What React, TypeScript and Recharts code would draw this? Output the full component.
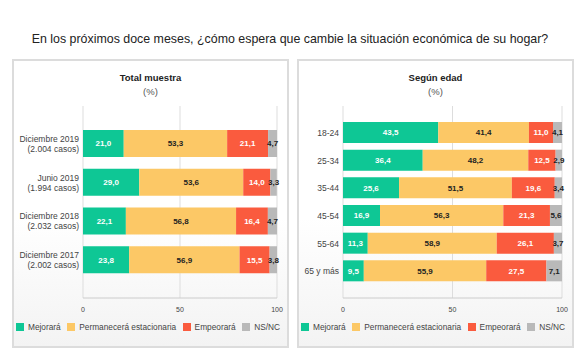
import React from 'react';
import { BarChart, Bar, XAxis, YAxis, CartesianGrid, LabelList } from 'recharts';

const totalCategories = ['Diciembre 2019', 'Junio 2019', 'Diciembre 2018', 'Diciembre 2017'];
const totalCasos = ['(2.004 casos)', '(1.994 casos)', '(2.032 casos)', '(2.002 casos)'];
const totalMejorara = [21.0, 29.0, 22.1, 23.8];
const totalPermanecera = [53.3, 53.6, 56.8, 56.9];
const totalEmpeorara = [21.1, 14.0, 16.4, 15.5];
const totalNsnc = [4.7, 3.3, 4.7, 3.8];

const edadCategories = ['18-24', '25-34', '35-44', '45-54', '55-64', '65 y más'];
const edadMejorara = [43.5, 36.4, 25.6, 16.9, 11.3, 9.5];
const edadPermanecera = [41.4, 48.2, 51.5, 56.3, 58.9, 55.9];
const edadEmpeorara = [11.0, 12.5, 19.6, 21.3, 26.1, 27.5];
const edadNsnc = [4.1, 2.9, 3.4, 5.6, 3.7, 7.1];

const xTicks = [0, 50, 100];

const series = [
  { key: 'mejorara', name: 'Mejorará', color: '#0ec795', label: '#ffffff' },
  { key: 'permanecera', name: 'Permanecerá estacionaria', color: '#fcc866', label: '#222222' },
  { key: 'empeorara', name: 'Empeorará', color: '#fa5b3e', label: '#ffffff' },
  { key: 'nsnc', name: 'NS/NC', color: '#b9b9b9', label: '#222222' },
];

const buildRows = (cats: string[], a: number[], b: number[], c: number[], d: number[]) =>
  cats.map((name, i) => ({ name, mejorara: a[i], permanecera: b[i], empeorara: c[i], nsnc: d[i] }));

const totalRows = buildRows(totalCategories, totalMejorara, totalPermanecera, totalEmpeorara, totalNsnc);
const edadRows = buildRows(edadCategories, edadMejorara, edadPermanecera, edadEmpeorara, edadNsnc);

const fmt = (v: any) => Number(v).toFixed(1).replace('.', ',');

const TotalTick = (props: any) => {
  const { x, y, payload } = props;
  const i = totalCategories.indexOf(payload.value);
  return (
    <text x={x} y={y} textAnchor="end" fontSize={8.5} fill="#444">
      <tspan x={x} dy={-1.5}>{payload.value}</tspan>
      <tspan x={x} dy={10}>{totalCasos[i]}</tspan>
    </text>
  );
};

const EdadTick = (props: any) => {
  const { x, y, payload } = props;
  return (
    <text x={x} y={y} dy={3} textAnchor="end" fontSize={8.5} fill="#444">
      {payload.value}
    </text>
  );
};

const Legend = () => (
  <div
    style={{
      position: 'absolute',
      left: 2,
      top: 261,
      display: 'flex',
      alignItems: 'center',
      fontSize: 8.3,
      color: '#444',
      whiteSpace: 'nowrap',
    }}
  >
    {series.map((s) => (
      <div key={s.key} style={{ display: 'flex', alignItems: 'center', marginRight: 6.5 }}>
        <span style={{ width: 8, height: 8, background: s.color, marginRight: 4, display: 'inline-block' }} />
        {s.name}
      </div>
    ))}
  </div>
);

const Panel = ({ left, title, rows, yWidth, padding, barSize, tick }: any) => (
  <div
    style={{
      position: 'absolute',
      left,
      top: 59,
      width: 277,
      height: 289,
      boxSizing: 'border-box',
      border: '2px solid #dcdcdc',
      background: 'linear-gradient(to bottom, #ffffff 0%, #ffffff 55%, #f3f3f3 100%)',
    }}
  >
    <div style={{ position: 'absolute', left: 0, width: 273, top: 11, textAlign: 'center', fontSize: 9.5, fontWeight: 'bold', color: '#222' }}>
      {title}
    </div>
    <div style={{ position: 'absolute', left: 0, width: 273, top: 25, textAlign: 'center', fontSize: 9.5, color: '#555' }}>
      (%)
    </div>
    <div style={{ position: 'absolute', left: 0, top: 0 }}>
      <BarChart
        width={273}
        height={285}
        data={rows}
        layout="vertical"
        margin={{ top: 45, right: 10, left: 0, bottom: 28 }}
        barSize={barSize}
      >
        <CartesianGrid vertical horizontal={false} stroke="#dddddd" verticalValues={xTicks} />
        <XAxis
          type="number"
          domain={[0, 100]}
          allowDataOverflow
          ticks={xTicks}
          height={20}
          tickLine={false}
          axisLine={{ stroke: '#cccccc' }}
          tick={{ fontSize: 7, fill: '#444' }}
          tickMargin={3}
        />
        <YAxis
          type="category"
          dataKey="name"
          width={yWidth}
          padding={padding}
          tickLine={false}
          axisLine={false}
          tickSize={0}
          tickMargin={4}
          tick={tick}
        />
        {series.map((s) => (
          <Bar key={s.key} dataKey={s.key} name={s.name} stackId="a" fill={s.color} isAnimationActive={false}>
            <LabelList dataKey={s.key} position="center" formatter={fmt} fill={s.label} fontSize={8} fontWeight="bold" />
          </Bar>
        ))}
      </BarChart>
    </div>
    <Legend />
  </div>
);

export default function App() {
  return (
    <div
      style={{
        position: 'absolute',
        left: 0,
        top: 0,
        width: 580,
        height: 360,
        background: '#ffffff',
        fontFamily: '"Liberation Sans", Arial, sans-serif',
      }}
    >
      <div style={{ position: 'absolute', left: 0, width: 580, top: 32, textAlign: 'center', fontSize: 12.4, color: '#222' }}>
        En los próximos doce meses, ¿cómo espera que cambie la situación económica de su hogar?
      </div>
      <Panel left={12} title="Total muestra" rows={totalRows} yWidth={69} padding={{ top: 18, bottom: 19 }} barSize={27} tick={<TotalTick />} />
      <Panel left={297} title="Según edad" rows={edadRows} yWidth={44} padding={{ top: 13, bottom: 13 }} barSize={21} tick={<EdadTick />} />
    </div>
  );
}
